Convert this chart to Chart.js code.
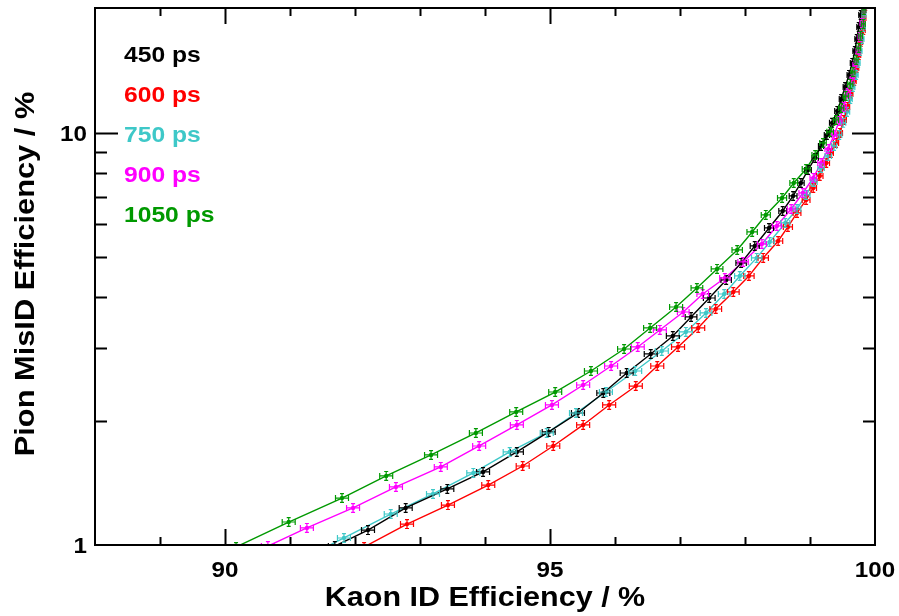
<!DOCTYPE html>
<html>
<head>
<meta charset="utf-8">
<script src="https://cdn.jsdelivr.net/npm/chart.js@4"></script>
<style>
html,body{margin:0;padding:0;background:#fff;}
#wrap{position:relative;width:899px;height:616px;}
</style>
</head>
<body>
<div id="wrap"><canvas id="c" width="899" height="616"></canvas></div>
<script>
// ---- data (Kaon ID efficiency %, Pion misID efficiency %) ----
const seriesLabels = ['450 ps', '600 ps', '750 ps', '900 ps', '1050 ps'];
const seriesColors = ['#000000', '#ff0000', '#3ec8c8', '#ff00ff', '#009900'];

const kaon450 = [91.69,92.20,92.78,93.42,93.97,94.49,94.98,95.43,95.82,96.18,96.55,96.89,97.17,97.45,97.71,97.94,98.15,98.37,98.58,98.74,98.86,98.97,99.08,99.17,99.26,99.34,99.42,99.48,99.54,99.60,99.65,99.69,99.72,99.75,99.78,99.82];
const pion450 = [0.994,1.087,1.230,1.368,1.504,1.682,1.881,2.091,2.338,2.615,2.908,3.216,3.576,3.976,4.397,4.837,5.318,5.880,6.466,7.032,7.562,8.131,8.694,9.299,9.888,10.58,11.31,12.09,12.93,13.83,14.79,15.81,16.90,18.07,19.33,20.57];

const kaon600 = [92.14,92.80,93.43,94.05,94.58,95.05,95.51,95.91,96.32,96.65,96.97,97.28,97.55,97.82,98.06,98.28,98.51,98.66,98.80,98.94,99.05,99.15,99.25,99.32,99.40,99.46,99.52,99.58,99.63,99.68,99.72,99.75,99.78,99.82,99.83,99.85];
const pion600 = [0.989,1.124,1.250,1.398,1.555,1.739,1.956,2.187,2.431,2.719,3.024,3.363,3.739,4.112,4.497,4.974,5.467,5.913,6.395,6.877,7.353,7.864,8.455,8.941,9.456,10.00,10.75,11.56,12.43,13.37,14.38,15.45,16.63,17.78,19.01,20.34];

const kaon750 = [91.46,91.83,92.55,93.20,93.82,94.38,94.95,95.40,95.86,96.31,96.72,97.09,97.40,97.68,97.92,98.18,98.38,98.62,98.80,98.94,99.06,99.17,99.28,99.37,99.45,99.51,99.57,99.62,99.66,99.71,99.74,99.77,99.80,99.82,99.83,99.85];
const pion750 = [0.972,1.040,1.189,1.330,1.496,1.682,1.870,2.091,2.351,2.644,2.957,3.289,3.657,4.066,4.497,4.974,5.437,6.047,6.538,7.071,7.603,8.222,8.792,9.299,9.888,10.58,11.25,12.09,12.93,13.83,14.79,15.81,16.90,18.07,19.33,20.57];

const kaon900 = [90.66,91.26,91.97,92.63,93.32,93.91,94.49,95.03,95.51,95.94,96.35,96.69,97.05,97.35,97.69,97.97,98.26,98.49,98.71,98.89,99.05,99.17,99.28,99.37,99.45,99.52,99.58,99.65,99.69,99.74,99.77,99.80,99.83];
const pion900 = [0.994,1.100,1.230,1.383,1.547,1.739,1.956,2.187,2.445,2.719,3.024,3.326,3.677,4.066,4.447,4.864,5.377,5.946,6.538,7.150,7.777,8.455,9.146,9.888,10.69,11.56,12.50,13.52,14.62,15.81,17.10,18.49,19.89];

const kaon1050 = [90.17,90.98,91.80,92.48,93.17,93.86,94.48,95.08,95.63,96.14,96.54,96.94,97.26,97.57,97.88,98.11,98.32,98.57,98.75,98.94,99.08,99.20,99.31,99.40,99.48,99.55,99.62,99.66,99.71,99.75,99.78,99.82,99.83];
const pion1050 = [0.989,1.137,1.300,1.471,1.654,1.870,2.103,2.351,2.644,2.990,3.363,3.781,4.205,4.677,5.200,5.750,6.324,6.954,7.562,8.176,8.842,9.456,10.06,10.75,11.50,12.29,13.15,14.06,15.03,16.07,17.19,18.39,19.89];

// horizontal error on the kaon efficiency, by point index (%)
const kaonErr = [0.10,0.10,0.10,0.10,0.10,0.10,0.10,0.10,0.10,0.10,0.10,0.10,0.09,0.09,0.08,0.08,0.07,0.07,0.06,0.06,0.05,0.05,0.05,0.04,0.04,0.04,0.04,0.03,0.03,0.03,0.03,0.03,0.03,0.03,0.03,0.03];
const pionErrRel = 0.025; // vertical error (relative)

const xTickLabels = ['90', '95', '100'];
const yTickLabels = ['1', '10'];
const xTitle = 'Kaon ID Efficiency / %';
const yTitle = 'Pion MisID Efficiency / %';

const xs = [kaon450, kaon600, kaon750, kaon900, kaon1050];
const ys = [pion450, pion600, pion750, pion900, pion1050];

const datasets = seriesLabels.map((lab, k) => ({
  label: lab,
  data: xs[k].map((v, i) => ({x: v, y: ys[k][i]})),
  showLine: true,
  borderColor: seriesColors[k],
  backgroundColor: seriesColors[k],
  borderWidth: 1.4,
  pointRadius: 2.2,
  pointBorderWidth: 0,
  pointBackgroundColor: seriesColors[k],
  tension: 0
}));

const FONT = '"Liberation Sans", Arial, Helvetica, sans-serif';
function stretchedText(ctx, txt, x, y, size, sx, align, rot) {
  ctx.save();
  ctx.font = 'bold ' + size + 'px ' + FONT;
  ctx.translate(x, y);
  if (rot) ctx.rotate(rot);
  ctx.scale(sx, 1);
  ctx.textAlign = align;
  ctx.textBaseline = 'alphabetic';
  ctx.fillText(txt, 0, 0);
  ctx.restore();
}

const errorBars = {
  id: 'errorBars',
  afterDatasetsDraw(chart) {
    const ctx = chart.ctx, sx = chart.scales.x, sy = chart.scales.y, a = chart.chartArea;
    ctx.save();
    ctx.beginPath();
    ctx.rect(a.left, a.top, a.right - a.left, a.bottom - a.top);
    ctx.clip();
    chart.data.datasets.forEach(ds => {
      ctx.strokeStyle = ds.borderColor;
      ctx.lineWidth = 1.2;
      ds.data.forEach((p, i) => {
        const e = kaonErr[i];
        const px = sx.getPixelForValue(p.x), py = sy.getPixelForValue(p.y);
        const x0 = sx.getPixelForValue(p.x - e), x1 = sx.getPixelForValue(p.x + e);
        const y0 = sy.getPixelForValue(p.y * (1 + pionErrRel)), y1 = sy.getPixelForValue(p.y / (1 + pionErrRel));
        ctx.beginPath();
        ctx.moveTo(x0, py); ctx.lineTo(x1, py);
        ctx.moveTo(x0, py - 3); ctx.lineTo(x0, py + 3);
        ctx.moveTo(x1, py - 3); ctx.lineTo(x1, py + 3);
        ctx.moveTo(px, y0); ctx.lineTo(px, y1);
        ctx.moveTo(px - 2, y0); ctx.lineTo(px + 2, y0);
        ctx.moveTo(px - 2, y1); ctx.lineTo(px + 2, y1);
        ctx.stroke();
      });
    });
    ctx.restore();
  }
};

const frame = {
  id: 'frame',
  afterDraw(chart) {
    const ctx = chart.ctx, sx = chart.scales.x, sy = chart.scales.y, a = chart.chartArea;
    ctx.save();
    ctx.strokeStyle = '#000';
    ctx.lineWidth = 2;
    ctx.strokeRect(a.left, a.top, a.right - a.left, a.bottom - a.top);
    ctx.beginPath();
    for (let v = 89; v <= 99; v++) {
      const px = Math.round(sx.getPixelForValue(v)) + 0.5;
      const len = (v % 5 === 0) ? 16 : 8;
      ctx.moveTo(px, a.bottom); ctx.lineTo(px, a.bottom - len);
      ctx.moveTo(px, a.top); ctx.lineTo(px, a.top + len);
    }
    const yt = [2,3,4,5,6,7,8,9,10];
    yt.forEach(v => {
      const py = Math.round(sy.getPixelForValue(v)) + 0.5;
      const len = (v === 10) ? 23 : 12;
      ctx.moveTo(a.left, py); ctx.lineTo(a.left + len, py);
      ctx.moveTo(a.right, py); ctx.lineTo(a.right - len, py);
    });
    ctx.stroke();

    ctx.fillStyle = '#000';
    xTickLabels.forEach(t => {
      const px = sx.getPixelForValue(parseFloat(t));
      stretchedText(ctx, t, px, a.bottom + 32, 22, 1.1, 'center');
    });
    yTickLabels.forEach(t => {
      const py = sy.getPixelForValue(parseFloat(t));
      stretchedText(ctx, t, a.left - 8, py + 8, 22, 1.1, 'right');
    });
    stretchedText(ctx, xTitle, 485, 606, 27, 1.13, 'center');
    stretchedText(ctx, yTitle, 34, 274, 28, 1.1, 'center', -Math.PI / 2);

    seriesLabels.forEach((lab, k) => {
      ctx.fillStyle = seriesColors[k];
      stretchedText(ctx, lab, 124, 62 + 40 * k, 22, 1.12, 'left');
    });
    ctx.restore();
  }
};

new Chart(document.getElementById('c'), {
  type: 'scatter',
  data: { datasets },
  options: {
    responsive: false,
    devicePixelRatio: 1,
    animation: false,
    layout: { padding: { left: 95, right: 24, top: 8, bottom: 71 } },
    plugins: { legend: { display: false }, tooltip: { enabled: false } },
    scales: {
      x: { type: 'linear', min: 88, max: 100, display: false },
      y: { type: 'logarithmic', min: 1, max: 20.1, display: false }
    }
  },
  plugins: [errorBars, frame]
});
</script>
</body>
</html>
